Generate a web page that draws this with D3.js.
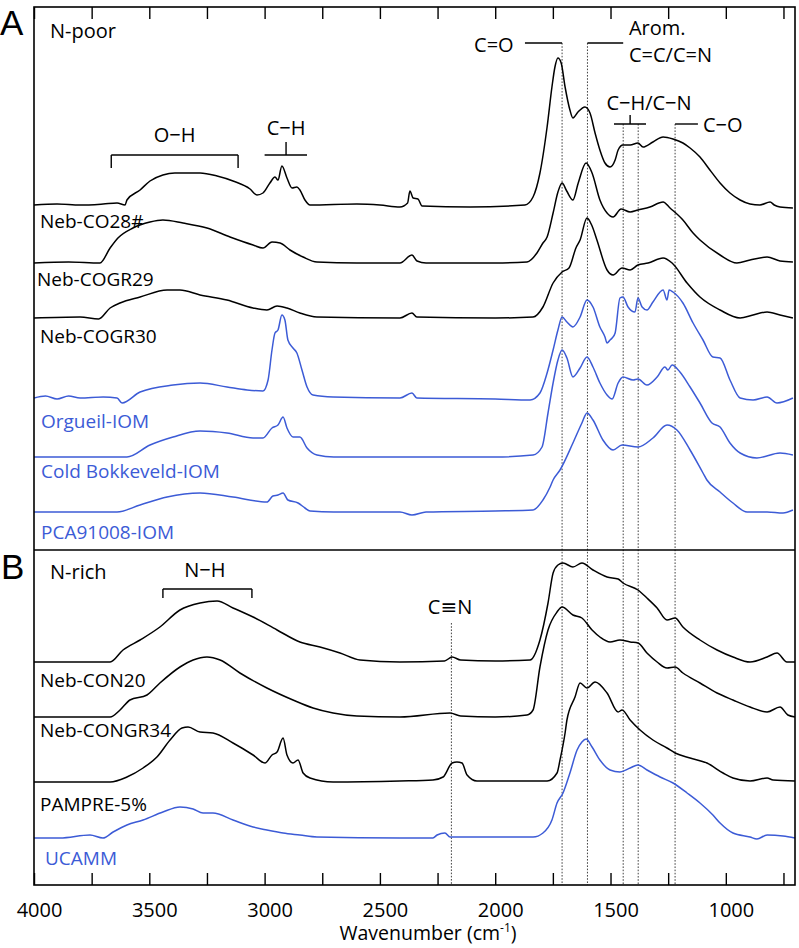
<!DOCTYPE html>
<meta charset="utf-8">
<head>
	<style type="text/css">
		body { margin: 0; background: #fff; }
		text { font-family: "Open Sans", "DejaVu Sans", sans-serif; }
		.panel-letter { font-family: "Liberation Sans", Arial, sans-serif; font-size: 35px; }
		.sample { font-size: 19px; }
		.note { font-size: 20px; }
		.axis text { font-size: 20px; }
		.axis path { display: none; }
		.axis line { stroke: #000; stroke-width: 1.4; }
	</style>
	<title>IR spectra</title>
</head>
<script src="https://d3js.org/d3.v7.min.js"></script>
<svg width="799" height="948" id="svg1"></svg>

<script>
	// spectra: [wavenumber (cm-1), absorbance above own baseline (a.u.)]
	const nebCO28 = [[4000,0],[3900,1],[3800,0],[3700,1],[3640,2],[3605,0],[3597,5],[3540,15],[3497,24],[3441,30],[3389,32],[3280,32],[3206,29],[3137,24],[3063,16],[3033,10],[3007,12],[2977,22],[2955,28],[2942,25],[2925,39],[2903,27],[2881,17],[2860,18],[2847,15],[2825,5],[2803,0],[2600,1],[2500,0],[2413,-2],[2380,2],[2370,14],[2356,7],[2335,6],[2317,-1],[2109,-2],[1871,0],[1836,8],[1806,32],[1775,78],[1754,118],[1741,138],[1728,147],[1714,142],[1697,118],[1676,95],[1663,87],[1641,93],[1611,98],[1589,92],[1567,72],[1546,55],[1524,42],[1502,38],[1480,45],[1467,55],[1446,60],[1415,60],[1381,62],[1359,58],[1316,63],[1272,68],[1229,66],[1186,62],[1155,57],[1112,48],[1069,35],[1025,22],[982,12],[938,5],[895,1],[852,0],[808,3],[790,0],[765,-2],[709,-3]];
	const nebCOGR29 = [[4000,0],[3850,1],[3714,0],[3670,15],[3636,25],[3571,35],[3497,41],[3441,43],[3354,40],[3250,35],[3150,26],[3050,18],[3007,15],[2968,21],[2933,20],[2890,13],[2833,6],[2773,1],[2600,0],[2413,0],[2361,8],[2339,2],[2300,0],[2000,0],[1862,1],[1819,10],[1793,20],[1775,26],[1749,50],[1728,71],[1710,80],[1690,72],[1663,63],[1640,80],[1606,100],[1580,90],[1546,63],[1515,50],[1489,46],[1454,54],[1415,51],[1381,53],[1329,56],[1272,61],[1242,55],[1186,43],[1142,30],[1112,23],[1025,8],[952,0],[895,3],[821,6],[765,2],[709,1]];
	const nebCOGR30 = [[4000,0],[3800,1],[3720,-1],[3670,10],[3627,15],[3540,21],[3423,28],[3367,28],[3280,23],[3163,18],[3050,10],[2990,8],[2946,12],[2903,10],[2847,5],[2773,1],[2413,0],[2361,5],[2340,1],[2000,0],[1836,1],[1793,11],[1749,35],[1710,46],[1680,50],[1650,70],[1632,78],[1602,100],[1580,92],[1559,78],[1515,48],[1489,43],[1450,50],[1415,48],[1381,53],[1337,55],[1272,60],[1233,55],[1168,35],[1112,21],[1025,8],[938,0],[882,3],[821,6],[765,3],[709,0]];
	const orgueil = [[4000,0],[3950,2],[3900,-1],[3850,2],[3800,0],[3700,1],[3640,0],[3618,-5],[3540,6],[3397,13],[3280,15],[3163,11],[3076,8],[3007,7],[2985,18],[2968,48],[2955,65],[2942,68],[2925,83],[2912,78],[2899,58],[2877,50],[2860,45],[2838,28],[2816,11],[2790,3],[2703,1],[2413,0],[2361,5],[2340,0],[2000,-1],[1849,-2],[1806,5],[1775,25],[1749,48],[1728,68],[1710,81],[1689,76],[1663,71],[1632,81],[1602,98],[1576,91],[1546,71],[1524,61],[1515,55],[1502,58],[1493,60],[1480,65],[1459,100],[1446,101],[1424,91],[1394,86],[1381,100],[1363,91],[1342,88],[1316,96],[1272,108],[1255,98],[1246,108],[1229,106],[1186,95],[1142,75],[1099,58],[1056,41],[1025,40],[982,18],[938,0],[882,-2],[821,1],[778,-5],[709,0]];
	const coldBokkeveld = [[4000,0],[3800,0],[3597,0],[3497,12],[3397,20],[3280,26],[3163,24],[3050,19],[3007,19],[2968,29],[2942,32],[2920,40],[2903,29],[2877,20],[2847,20],[2816,9],[2773,2],[2700,0],[2000,0],[1836,2],[1797,10],[1771,44],[1749,74],[1728,97],[1710,107],[1689,99],[1663,80],[1632,89],[1602,100],[1576,90],[1546,74],[1515,62],[1493,58],[1467,74],[1446,80],[1402,77],[1381,78],[1342,72],[1298,80],[1264,90],[1251,87],[1233,92],[1199,85],[1155,70],[1112,54],[1060,34],[1025,30],[982,14],[938,4],[865,-1],[765,4],[709,2]];
	const pca91008 = [[4000,0],[3800,0],[3640,0],[3540,7],[3423,15],[3280,19],[3137,15],[2990,10],[2964,16],[2942,17],[2920,19],[2899,12],[2855,9],[2825,4],[2803,1],[2700,0],[2413,0],[2361,-3],[2300,0],[2000,1],[1836,2],[1793,12],[1762,25],[1749,32],[1719,42],[1663,69],[1624,89],[1602,99],[1576,92],[1533,72],[1489,62],[1450,67],[1381,65],[1316,74],[1255,87],[1212,82],[1155,62],[1099,39],[1082,32],[1025,20],[969,9],[908,0],[821,0],[752,-1],[709,2]];
	const nebCON20 = [[4000,0],[3800,0],[3670,0],[3614,12],[3540,22],[3454,35],[3367,52],[3280,59],[3206,61],[3137,54],[3050,45],[2946,32],[2847,20],[2760,15],[2673,9],[2586,2],[2413,0],[2220,1],[2187,5],[2150,2],[2000,1],[1849,2],[1806,22],[1771,59],[1749,89],[1728,97],[1706,99],[1663,95],[1624,99],[1576,92],[1515,85],[1467,83],[1446,79],[1381,72],[1342,64],[1298,54],[1255,42],[1220,44],[1186,35],[1112,22],[1038,12],[969,5],[895,0],[821,5],[778,9],[735,0],[700,0]];
	const nebCONGR34 = [[4000,0],[3800,0],[3670,0],[3627,7],[3584,17],[3510,22],[3454,34],[3367,50],[3310,57],[3250,60],[3193,57],[3107,44],[2990,29],[2877,17],[2790,9],[2703,4],[2600,1],[2413,0],[2196,4],[2150,1],[2000,0],[1862,2],[1836,7],[1806,50],[1771,87],[1732,105],[1710,110],[1663,102],[1624,99],[1580,87],[1546,80],[1502,75],[1459,77],[1415,75],[1381,74],[1342,64],[1298,55],[1255,49],[1220,50],[1186,44],[1112,34],[1038,24],[969,17],[895,10],[821,5],[765,10],[731,2],[700,0]];
	const pampre = [[4000,0],[3670,0],[3597,5],[3527,14],[3467,25],[3410,42],[3358,54],[3332,55],[3280,50],[3224,49],[3137,39],[3050,27],[2998,19],[2968,27],[2946,30],[2920,44],[2903,27],[2877,19],[2855,22],[2833,9],[2803,4],[2703,0],[2413,1],[2270,2],[2226,5],[2187,19],[2166,20],[2144,19],[2122,7],[2079,1],[1775,1],[1732,9],[1719,22],[1697,49],[1689,62],[1654,85],[1632,99],[1602,94],[1567,100],[1515,89],[1467,70],[1450,72],[1415,62],[1372,52],[1316,42],[1255,34],[1220,29],[1155,24],[1082,19],[1012,9],[969,4],[895,1],[821,4],[795,2],[700,1]];
	const ucamm = [[4000,0],[3887,0],[3757,3],[3701,0],[3657,6],[3597,13],[3527,18],[3441,26],[3367,31],[3310,29],[3267,25],[3224,25],[3137,18],[3050,11],[2990,8],[2920,5],[2847,3],[2773,1],[2413,0],[2270,0],[2252,3],[2218,5],[2196,1],[1979,1],[1836,1],[1793,5],[1754,18],[1732,35],[1706,45],[1676,65],[1645,88],[1624,96],[1606,99],[1580,91],[1546,78],[1502,68],[1459,66],[1415,70],[1381,73],[1342,68],[1285,61],[1229,55],[1168,45],[1112,35],[1056,23],[1025,15],[969,5],[895,1],[865,-1],[821,3],[752,2],[700,0]];

	const sampleNames = ["Neb-CO28#", "Neb-COGR29", "Neb-COGR30", "Orgueil-IOM", "Cold Bokkeveld-IOM", "PCA91008-IOM",
		"Neb-CON20", "Neb-CONGR34", "PAMPRE-5%", "UCAMM"];
	const spectra = [nebCO28, nebCOGR29, nebCOGR30, orgueil, coldBokkeveld, pca91008, nebCON20, nebCONGR34, pampre, ucamm];
	// vertical stacking offsets (a.u.)
	const offsets = [680, 622, 567, 487, 428, 373, 223, 168, 103, 47];
	const natural = [false, false, false, true, true, true, false, false, false, true];

	const tickValues = d3.range(4000, 699, -250);
	const bandLines = [1710, 1600, 1445, 1380, 1220];
	const cnBand = 2190;

	// layout
	const svg1 = d3.select('#svg1');
	const width = +svg1.attr('width');
	const height = +svg1.attr('height');
	const margin = { top: 7, right: 4, bottom: 63, left: 34 };
	const innerWidth = width - margin.left - margin.right;
	const innerHeight = height - margin.top - margin.bottom;
	const splitY = 543;
	const blue = '#3c5bd6';
	// label nudges below each baseline and left x
	const labelDy = [23, 23, 25, 30, 21, 27, 25, 20, 29, 27];
	const labelX = [6, 3, 6, 7, 7, 7, 6, 6, 6, 11];

	const xScale = d3.scaleLinear().domain([4000, 700]).range([0, innerWidth]);
	const yScale = d3.scaleLinear().domain([0, innerHeight]).range([innerHeight, 0]);

	const g1 = svg1.append('g')
		.attr('transform', `translate(${margin.left},${margin.top})`);

	//dotted band markers
	const dots = g1.append('g')
		.attr('stroke', '#444')
		.attr('stroke-width', 1)
		.attr('stroke-dasharray', '1.6,1.6');
	bandLines.forEach((b, i) => {
		dots.append('line')
			.attr('x1', xScale(b)).attr('x2', xScale(b))
			.attr('y1', i < 2 ? 36 : 117).attr('y2', innerHeight);
	});
	dots.append('line')
		.attr('x1', xScale(cnBand)).attr('x2', xScale(cnBand))
		.attr('y1', 616).attr('y2', innerHeight);

	//spectra
	spectra.forEach((s, i) => {
		const line = d3.line()
			.x(d => xScale(d[0]))
			.y(d => yScale(d[1] + offsets[i]))
			.curve(d3.curveMonotoneX);
		g1.append('path')
			.datum(s)
			.attr('fill', 'none')
			.attr('stroke', natural[i] ? blue : '#000')
			.attr('stroke-width', 1.5)
			.attr('stroke-linejoin', 'round')
			.attr('d', line);

		g1.append('text')
			.attr('class', 'sample')
			.attr('x', labelX[i])
			.attr('y', yScale(offsets[i]) + labelDy[i])
			.attr('fill', natural[i] ? blue : '#000')
			.text(sampleNames[i]);
	});

	//axes
	const xAxis = d3.axisBottom(xScale)
		.tickValues(tickValues)
		.tickSize(-12)
		.tickPadding(18)
		.tickFormat(d => d % 500 === 0 ? d : '');
	const xAxisG = g1.append('g')
		.attr('class', 'axis')
		.attr('transform', `translate(0,${innerHeight})`)
		.call(xAxis);
	xAxisG.selectAll('text').attr('dx', 5);
	xAxisG.selectAll('text').filter(d => d % 500 !== 0).remove();

	const topAxisG = g1.append('g')
		.attr('class', 'axis')
		.call(d3.axisTop(xScale).tickValues(tickValues).tickSize(-12).tickFormat(''));
	topAxisG.selectAll('text').remove();

	//frame and panel divider
	g1.append('rect')
		.attr('width', innerWidth)
		.attr('height', innerHeight)
		.attr('fill', 'none')
		.attr('stroke', '#000')
		.attr('stroke-width', 1.6);
	g1.append('line')
		.attr('x1', 0).attr('x2', innerWidth)
		.attr('y1', splitY).attr('y2', splitY)
		.attr('stroke', '#000')
		.attr('stroke-width', 1.6);

	const xLabel = g1.append('text')
		.attr('x', 394)
		.attr('y', innerHeight + 55)
		.attr('text-anchor', 'middle')
		.attr('font-size', '19.5px');
	xLabel.append('tspan').text('Wavenumber (cm');
	xLabel.append('tspan').attr('font-size', '12px').attr('dy', -8).text('-1');
	xLabel.append('tspan').attr('dy', 8).text(')');

	//panel letters and group titles
	svg1.append('text').attr('class', 'panel-letter').attr('x', 0).attr('y', 35).text('A');
	svg1.append('text').attr('class', 'panel-letter').attr('x', 1).attr('y', 579).text('B');
	g1.append('text').attr('class', 'note').attr('x', 16).attr('y', 31).text('N-poor');
	g1.append('text').attr('class', 'note').attr('x', 16).attr('y', 572).text('N-rich');

	//band annotations
	const ann = g1.append('g').attr('stroke', '#000').attr('stroke-width', 1.4).attr('fill', 'none');
	const hline = (a, b, yy) => ann.append('line').attr('x1', xScale(a)).attr('x2', xScale(b)).attr('y1', yy).attr('y2', yy);
	const vline = (a, y1, y2) => ann.append('line').attr('x1', xScale(a)).attr('x2', xScale(a)).attr('y1', y1).attr('y2', y2);
	const note = (a, yy, txt, anchor) => g1.append('text').attr('class', 'note')
		.attr('x', xScale(a)).attr('y', yy).attr('text-anchor', anchor || 'middle').text(txt);

	// O-H
	hline(3665, 3115, 148); vline(3665, 148, 161); vline(3115, 148, 161);
	note(3390, 135, 'O\u2212H');
	// aliphatic C-H
	hline(3000, 2816, 148); vline(2907, 135, 148);
	note(2907, 128, 'C\u2212H');
	// C=O
	hline(1871, 1710, 36);
	note(1920, 45, 'C=O', 'end');
	// aromatic
	hline(1600, 1445, 36);
	note(1420, 28, 'Arom.', 'start');
	note(1420, 55, 'C=C/C=N', 'start');
	// C-H / C-N
	hline(1485, 1346, 117); vline(1415, 108, 117);
	note(1333, 103, 'C\u2212H/C\u2212N');
	// C-O
	hline(1220, 1121, 117);
	note(1099, 125, 'C\u2212O', 'start');
	// N-H
	hline(3441, 3055, 582); vline(3441, 582, 591); vline(3055, 582, 591);
	note(3259, 570, 'N\u2212H');
	// nitrile
	note(2196, 607, 'C\u2261N');
</script>
